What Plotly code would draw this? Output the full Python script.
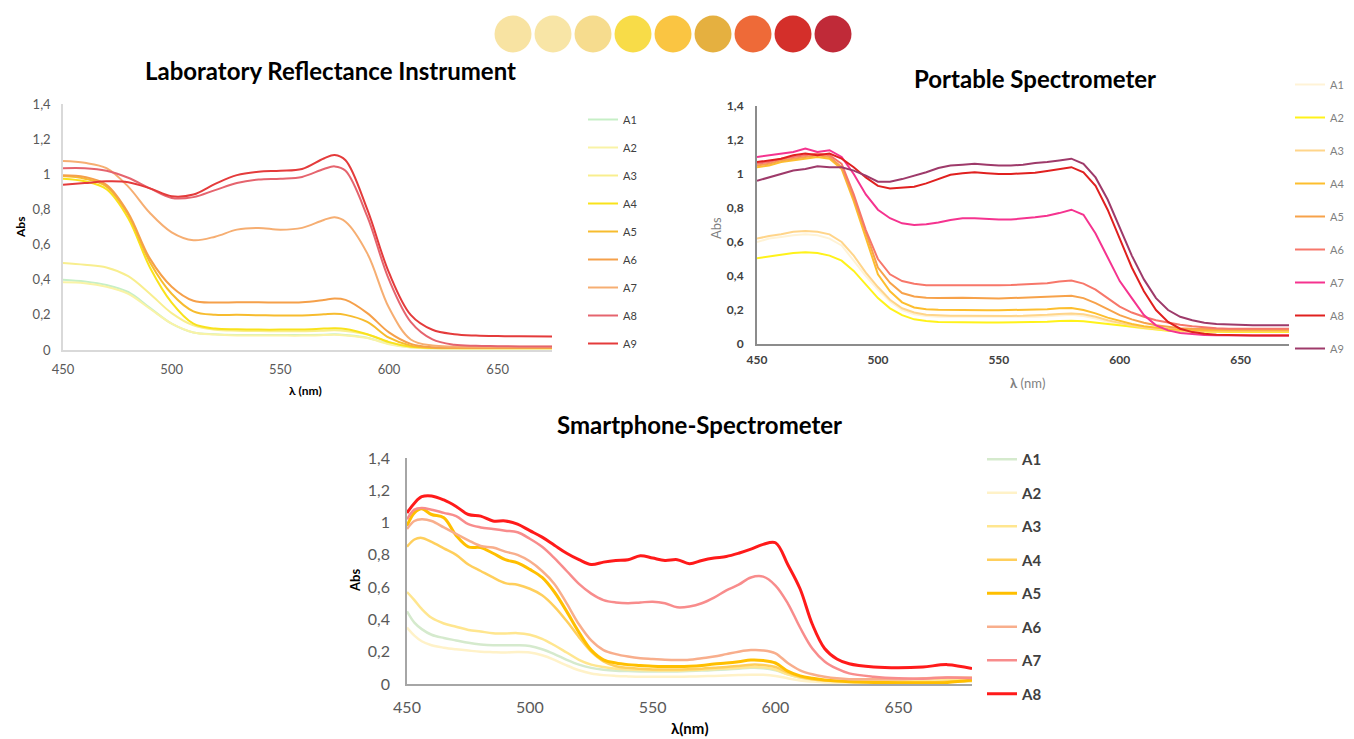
"""Absorbance spectra measured with three instruments (lab, portable, smartphone)."""

import plotly.graph_objects as go

# ---------------------------------------------------------------- data
# colour chips shown above the charts
swatch_pos = [1, 2, 3, 4, 5, 6, 7, 8, 9]
swatch_colors = ["#F8E3A2", "#F8E5A6", "#F6DC8E", "#F8DC48", "#FAC542",
                 "#E5B040", "#EE6A38", "#D42F2A", "#C02A38"]

# Laboratory Reflectance Instrument
wl_lab = [450, 460, 470, 480, 490, 500, 510, 520, 530, 540, 550, 560,
          570, 575, 580, 590, 600, 610, 620, 630, 640, 650, 660, 675]
lab_a1 = [0.40, 0.39, 0.37, 0.33, 0.24, 0.15, 0.10, 0.09, 0.086, 0.085, 0.085, 0.085,
          0.087, 0.089, 0.085, 0.07, 0.035, 0.015, 0.01, 0.01, 0.01, 0.01, 0.01, 0.01]
lab_a2 = [0.385, 0.38, 0.36, 0.32, 0.235, 0.15, 0.10, 0.088, 0.083, 0.082, 0.082, 0.082,
          0.085, 0.087, 0.083, 0.068, 0.033, 0.014, 0.01, 0.01, 0.01, 0.01, 0.01, 0.01]
lab_a3 = [0.495, 0.485, 0.47, 0.42, 0.32, 0.21, 0.14, 0.115, 0.11, 0.108, 0.107, 0.107,
          0.11, 0.112, 0.108, 0.088, 0.045, 0.02, 0.013, 0.011, 0.01, 0.01, 0.01, 0.01]
lab_a4 = [0.975, 0.96, 0.915, 0.75, 0.47, 0.27, 0.15, 0.122, 0.118, 0.116, 0.116, 0.117,
          0.122, 0.124, 0.12, 0.09, 0.045, 0.018, 0.012, 0.01, 0.01, 0.01, 0.01, 0.01]
lab_a5 = [0.99, 0.975, 0.93, 0.77, 0.50, 0.32, 0.22, 0.20, 0.20, 0.198, 0.196, 0.197,
          0.203, 0.206, 0.2, 0.16, 0.07, 0.025, 0.013, 0.012, 0.012, 0.012, 0.012, 0.012]
lab_a6 = [0.995, 0.985, 0.94, 0.78, 0.52, 0.36, 0.28, 0.27, 0.272, 0.272, 0.27, 0.272,
          0.285, 0.293, 0.285, 0.21, 0.10, 0.035, 0.016, 0.013, 0.012, 0.012, 0.012, 0.012]
lab_a7 = [1.075, 1.065, 1.035, 0.93, 0.78, 0.67, 0.625, 0.645, 0.685, 0.695, 0.685, 0.695,
          0.74, 0.755, 0.73, 0.55, 0.24, 0.06, 0.025, 0.02, 0.018, 0.018, 0.018, 0.018]
lab_a8 = [1.035, 1.035, 1.02, 0.98, 0.92, 0.865, 0.87, 0.91, 0.95, 0.97, 0.975, 0.985,
          1.03, 1.045, 1.02, 0.76, 0.40, 0.16, 0.06, 0.03, 0.024, 0.022, 0.02, 0.02]
lab_a9 = [0.94, 0.95, 0.96, 0.955, 0.92, 0.875, 0.885, 0.945, 0.995, 1.015, 1.02, 1.03,
          1.09, 1.11, 1.08, 0.80, 0.44, 0.20, 0.115, 0.09, 0.082, 0.079, 0.078, 0.077]

# Portable Spectrometer
wl_port = [450, 455, 460, 465, 470, 475, 480, 485, 490, 495, 500, 505, 510, 515, 520,
           525, 530, 535, 540, 545, 550, 555, 560, 565, 570, 575, 580, 585, 590, 595,
           600, 605, 610, 615, 620, 625, 630, 635, 640, 645, 650, 655, 660, 665, 670]
port_a1 = [0.60, 0.62, 0.63, 0.64, 0.645, 0.64, 0.62, 0.58, 0.49, 0.40, 0.32, 0.25, 0.20, 0.175, 0.165,
           0.16, 0.16, 0.16, 0.158, 0.157, 0.157, 0.157, 0.158, 0.16, 0.163, 0.168, 0.172, 0.165, 0.15, 0.13,
           0.115, 0.10, 0.09, 0.083, 0.078, 0.075, 0.073, 0.072, 0.072, 0.072, 0.072, 0.072, 0.072, 0.072, 0.072]
port_a2 = [0.505, 0.515, 0.525, 0.535, 0.54, 0.535, 0.52, 0.49, 0.43, 0.35, 0.27, 0.21, 0.17, 0.145, 0.135,
           0.13, 0.128, 0.127, 0.127, 0.126, 0.127, 0.127, 0.128, 0.129, 0.131, 0.135, 0.137, 0.134, 0.126, 0.117,
           0.108, 0.098, 0.09, 0.083, 0.078, 0.075, 0.073, 0.072, 0.071, 0.07, 0.07, 0.07, 0.07, 0.07, 0.07]
port_a3 = [0.62, 0.635, 0.645, 0.66, 0.665, 0.66, 0.645, 0.60, 0.52, 0.42, 0.335, 0.26, 0.21, 0.185, 0.172,
           0.168, 0.166, 0.166, 0.165, 0.165, 0.165, 0.165, 0.166, 0.168, 0.172, 0.177, 0.18, 0.175, 0.16, 0.14,
           0.122, 0.108, 0.097, 0.088, 0.082, 0.078, 0.076, 0.075, 0.075, 0.075, 0.075, 0.075, 0.075, 0.075, 0.075]
port_a4 = [1.04, 1.05, 1.07, 1.08, 1.09, 1.10, 1.09, 1.03, 0.84, 0.62, 0.41, 0.31, 0.245, 0.215, 0.205,
           0.202, 0.2, 0.2, 0.199, 0.198, 0.198, 0.199, 0.2, 0.202, 0.205, 0.21, 0.212, 0.2, 0.18, 0.155,
           0.135, 0.118, 0.105, 0.095, 0.088, 0.084, 0.081, 0.08, 0.08, 0.08, 0.08, 0.08, 0.08, 0.08, 0.08]
port_a5 = [1.05, 1.06, 1.08, 1.09, 1.10, 1.11, 1.10, 1.04, 0.86, 0.65, 0.45, 0.36, 0.30, 0.28, 0.272,
           0.27, 0.272, 0.272, 0.27, 0.268, 0.268, 0.27, 0.272, 0.274, 0.277, 0.282, 0.284, 0.27, 0.24, 0.205,
           0.17, 0.145, 0.125, 0.11, 0.1, 0.093, 0.089, 0.087, 0.086, 0.085, 0.085, 0.085, 0.085, 0.085, 0.085]
port_a6 = [1.06, 1.07, 1.09, 1.10, 1.11, 1.12, 1.11, 1.06, 0.88, 0.67, 0.50, 0.41, 0.37, 0.355, 0.345,
           0.343, 0.345, 0.346, 0.345, 0.344, 0.345, 0.347, 0.35, 0.353, 0.358, 0.368, 0.374, 0.355, 0.32, 0.27,
           0.22, 0.185, 0.16, 0.14, 0.125, 0.113, 0.104, 0.097, 0.093, 0.09, 0.09, 0.09, 0.09, 0.09, 0.09]
port_a7 = [1.10, 1.11, 1.12, 1.13, 1.15, 1.13, 1.14, 1.10, 1.00, 0.88, 0.79, 0.74, 0.71, 0.70, 0.705,
           0.715, 0.73, 0.74, 0.74, 0.735, 0.732, 0.732, 0.738, 0.745, 0.755, 0.77, 0.79, 0.76, 0.65, 0.51,
           0.37, 0.27, 0.17, 0.11, 0.08, 0.065, 0.057, 0.053, 0.051, 0.05, 0.05, 0.05, 0.05, 0.05, 0.05]
port_a8 = [1.07, 1.08, 1.09, 1.11, 1.12, 1.11, 1.12, 1.09, 1.04, 0.98, 0.93, 0.915, 0.92, 0.925, 0.945,
           0.97, 0.995, 1.005, 1.01, 1.005, 1.0, 1.0, 1.002, 1.008, 1.018, 1.03, 1.04, 1.01, 0.93, 0.79,
           0.62, 0.45, 0.31, 0.20, 0.13, 0.09, 0.07, 0.06, 0.055, 0.052, 0.05, 0.05, 0.05, 0.05, 0.05]
port_a9 = [0.96, 0.98, 1.00, 1.02, 1.03, 1.045, 1.04, 1.04, 1.02, 0.99, 0.955, 0.955, 0.97, 0.99, 1.01,
           1.035, 1.05, 1.055, 1.06, 1.055, 1.05, 1.05, 1.055, 1.065, 1.07, 1.08, 1.09, 1.06, 0.98, 0.85,
           0.68, 0.52, 0.38, 0.27, 0.20, 0.16, 0.14, 0.125, 0.118, 0.114, 0.112, 0.11, 0.11, 0.11, 0.11]

# Smartphone-Spectrometer
wl_phone = [450, 453, 456, 460, 465, 470, 475, 480, 485, 490, 495, 500, 505, 510, 515,
            520, 525, 530, 535, 540, 545, 550, 555, 560, 565, 570, 575, 580, 585, 590,
            595, 600, 605, 610, 615, 620, 625, 630, 640, 650, 660, 670, 680]
phone_a1 = [0.45, 0.38, 0.34, 0.305, 0.285, 0.27, 0.255, 0.245, 0.24, 0.24, 0.24, 0.235, 0.215, 0.185, 0.15,
            0.12, 0.10, 0.088, 0.082, 0.08, 0.078, 0.077, 0.077, 0.078, 0.08, 0.083, 0.086, 0.09, 0.095, 0.10,
            0.098, 0.085, 0.06, 0.04, 0.028, 0.02, 0.016, 0.014, 0.012, 0.012, 0.012, 0.014, 0.015]
phone_a2 = [0.35, 0.30, 0.265, 0.24, 0.225, 0.215, 0.207, 0.20, 0.197, 0.195, 0.198, 0.195, 0.178, 0.15, 0.115,
            0.085, 0.065, 0.055, 0.05, 0.047, 0.045, 0.045, 0.045, 0.045, 0.046, 0.048, 0.05, 0.053, 0.056, 0.058,
            0.057, 0.05, 0.035, 0.022, 0.015, 0.01, 0.008, 0.008, 0.008, 0.01, 0.012, 0.015, 0.015]
phone_a3 = [0.57, 0.52, 0.465, 0.41, 0.375, 0.355, 0.335, 0.325, 0.315, 0.313, 0.315, 0.305, 0.28, 0.24, 0.195,
            0.15, 0.12, 0.105, 0.095, 0.09, 0.087, 0.085, 0.084, 0.084, 0.086, 0.088, 0.092, 0.096, 0.10, 0.105,
            0.103, 0.09, 0.06, 0.04, 0.028, 0.022, 0.02, 0.02, 0.02, 0.02, 0.025, 0.03, 0.035]
phone_a4 = [0.85, 0.895, 0.905, 0.88, 0.84, 0.80, 0.74, 0.70, 0.66, 0.625, 0.615, 0.59, 0.55, 0.48, 0.39,
            0.29, 0.20, 0.14, 0.11, 0.10, 0.095, 0.09, 0.09, 0.09, 0.092, 0.095, 0.10, 0.105, 0.112, 0.12,
            0.118, 0.105, 0.07, 0.045, 0.03, 0.022, 0.018, 0.015, 0.012, 0.01, 0.01, 0.015, 0.02]
phone_a5 = [0.98, 1.06, 1.085, 1.05, 1.03, 0.92, 0.85, 0.845, 0.81, 0.77, 0.75, 0.71, 0.66, 0.57, 0.45,
            0.32, 0.21, 0.15, 0.13, 0.12, 0.115, 0.11, 0.108, 0.108, 0.11, 0.115, 0.124, 0.13, 0.138, 0.148,
            0.145, 0.13, 0.08, 0.05, 0.035, 0.025, 0.018, 0.014, 0.01, 0.008, 0.008, 0.01, 0.025]
phone_a6 = [0.96, 1.01, 1.02, 1.01, 0.97, 0.93, 0.89, 0.855, 0.845, 0.82, 0.80, 0.76, 0.70, 0.62, 0.50,
            0.37, 0.27, 0.21, 0.185, 0.17, 0.16, 0.155, 0.15, 0.148, 0.15, 0.16, 0.17, 0.185, 0.20, 0.21,
            0.208, 0.19, 0.13, 0.085, 0.06, 0.045, 0.035, 0.03, 0.03, 0.03, 0.035, 0.04, 0.04]
phone_a7 = [1.02, 1.08, 1.09, 1.08, 1.06, 1.04, 0.99, 0.97, 0.96, 0.95, 0.94, 0.90, 0.85, 0.78, 0.70,
            0.62, 0.56, 0.52, 0.505, 0.50, 0.505, 0.51, 0.50, 0.475, 0.48, 0.50, 0.535, 0.58, 0.615, 0.66,
            0.665, 0.61, 0.50, 0.35, 0.22, 0.14, 0.095, 0.066, 0.045, 0.035, 0.033, 0.04, 0.035]
phone_a8 = [1.06, 1.12, 1.16, 1.165, 1.14, 1.10, 1.05, 1.04, 1.01, 1.01, 0.99, 0.95, 0.91, 0.86, 0.81,
            0.77, 0.74, 0.755, 0.765, 0.77, 0.795, 0.78, 0.765, 0.77, 0.745, 0.765, 0.78, 0.79, 0.81, 0.835,
            0.865, 0.875, 0.74, 0.59, 0.37, 0.22, 0.155, 0.125, 0.105, 0.10, 0.105, 0.12, 0.095]

names = ["A1", "A2", "A3", "A4", "A5", "A6", "A7", "A8", "A9"]

lab_series = [lab_a1, lab_a2, lab_a3, lab_a4, lab_a5, lab_a6, lab_a7, lab_a8, lab_a9]
lab_colors = ["#C6EFC6", "#F9F3A6", "#F8EE8E", "#F9E21B", "#F7BC2E",
              "#F5A04A", "#F6AE72", "#E5646E", "#E43B3B"]

port_series = [port_a1, port_a2, port_a3, port_a4, port_a5, port_a6, port_a7, port_a8, port_a9]
port_colors = ["#FFF3D6", "#FFF21A", "#FFD58A", "#FDBE2E", "#F7A24A",
               "#F7776A", "#F5338F", "#E0201F", "#9E3A6A"]

phone_series = [phone_a1, phone_a2, phone_a3, phone_a4, phone_a5, phone_a6, phone_a7, phone_a8]
phone_colors = ["#D5EACD", "#FFF2C8", "#FFE68F", "#FFCF5C", "#FFBF00",
                "#F8AE8C", "#F88C8C", "#FF1A1A"]

# ---------------------------------------------------------------- figure
# the page body keeps its default 8px margin, so the figure starts 8px in;
# layout positions below are given in window pixels
PAGE_W, PAGE_H, BODY = 1354, 739, 8
W, H = PAGE_W - BODY, PAGE_H - BODY
FONT = "Lato, 'Open Sans', sans-serif"


def px(x):
    return (x - BODY) / W


def py(y):
    return 1 - (y - BODY) / H


fig = go.Figure()

for name, ys, col in zip(names, lab_series, lab_colors):
    fig.add_trace(go.Scatter(
        x=wl_lab, y=ys, name=name, mode="lines", line=dict(color=col, width=2, shape="spline"),
        xaxis="x", yaxis="y", legend="legend", legendgroup="lab" + name,
    ))

for name, ys, col in zip(names, port_series, port_colors):
    fig.add_trace(go.Scatter(
        x=wl_port, y=ys, name=name, mode="lines", line=dict(color=col, width=2),
        xaxis="x2", yaxis="y2", legend="legend2", legendgroup="port" + name,
    ))

for name, ys, col in zip(names, phone_series, phone_colors):
    w = 3 if name in ("A5", "A8") else 2.5
    fig.add_trace(go.Scatter(
        x=wl_phone, y=ys, name=name, mode="lines", line=dict(color=col, width=w, shape="spline"),
        xaxis="x3", yaxis="y3", legend="legend3", legendgroup="phone" + name,
    ))

fig.add_trace(go.Scatter(
    x=swatch_pos, y=[1] * len(swatch_pos), mode="markers", showlegend=False, hoverinfo="skip",
    marker=dict(size=37, color=swatch_colors, line=dict(width=0)),
    xaxis="x4", yaxis="y4",
))


def xax(x0, x1, y_axis, rng, tick_font, line_col, line_w, standoff):
    return dict(domain=[px(x0), px(x1)], range=rng, anchor=y_axis, showgrid=False,
                zeroline=False, showline=True, linecolor=line_col, linewidth=line_w,
                tickvals=[450, 500, 550, 600, 650], ticks="", tickfont=tick_font,
                ticklabelstandoff=standoff, automargin=False, fixedrange=True)


def yax(y0, y1, x_axis, tick_font, line_col, line_w, standoff):
    return dict(domain=[py(y0), py(y1)], range=[0, 1.4], anchor=x_axis, showgrid=False,
                zeroline=False, showline=True, linecolor=line_col, linewidth=line_w,
                dtick=0.2, tick0=0, ticks="", tickfont=tick_font,
                ticklabelstandoff=standoff, automargin=False, fixedrange=True)


tf1 = dict(family=FONT, size=13, color="#595959")
tf2 = dict(family=FONT, size=12, color="#404040", weight="bold")
tf3 = dict(family=FONT, size=16, color="#595959")

legend_common = dict(bgcolor="rgba(0,0,0,0)", borderwidth=0, traceorder="grouped",
                     xanchor="left", yanchor="top", itemclick=False, itemdoubleclick=False)

fig.update_layout(
    width=W, height=H, margin=dict(l=0, r=0, t=0, b=0, autoexpand=False),
    paper_bgcolor="white", plot_bgcolor="white", separators=", ",
    font=dict(family=FONT, color="#404040"),
    xaxis=xax(63, 552, "y", [450, 675], tf1, "#D9D9D9", 1.5, 7),
    yaxis=yax(350, 104, "x", tf1, "#D9D9D9", 1.5, 8),
    xaxis2=xax(757, 1289, "y2", [450, 670], tf2, "#8C8C8C", 2, 4),
    yaxis2=yax(344, 106, "x2", tf2, "#8C8C8C", 2, 9),
    xaxis3=xax(407, 972, "y3", [450, 680], tf3, "#A6A6A6", 1.5, 8),
    yaxis3=yax(684, 458, "x3", tf3, "#A6A6A6", 1.5, 12),
    xaxis4=dict(domain=[px(493), px(853)], range=[0.5, 9.5], anchor="y4", visible=False),
    yaxis4=dict(domain=[py(60), py(8)], range=[0, 2], anchor="x4", visible=False),
    legend=dict(x=px(583), y=py(105), font=dict(family=FONT, size=11, color="#404040"),
                tracegroupgap=9, **legend_common),
    legend2=dict(x=px(1290), y=py(70), font=dict(family=FONT, size=11, color="#7F7F7F"),
                 tracegroupgap=14, **legend_common),
    legend3=dict(x=px(982), y=py(443), font=dict(family=FONT, size=15, color="#404040", weight="bold"),
                 tracegroupgap=11, **legend_common),
)

annotations = [
    dict(text="<b>Laboratory Reflectance Instrument</b>", x=px(330), y=py(71), size=24),
    dict(text="<b>Portable Spectrometer</b>", x=px(1035), y=py(79), size=24),
    dict(text="<b>Smartphone-Spectrometer</b>", x=px(700), y=py(424), size=24),
    dict(text="<b>λ (nm)</b>", x=px(305), y=py(391), size=12),
    dict(text="<b>λ</b> (nm)", x=px(1027), y=py(383), size=13, color="#7F7F7F"),
    dict(text="<b>λ(nm)</b>", x=px(690), y=py(728), size=15),
    dict(text="<b>Abs</b>", x=px(20), y=py(228), size=12, angle=-90),
    dict(text="Abs", x=px(716), y=py(228), size=13, angle=-90, color="#7F7F7F"),
    dict(text="<b>Abs</b>", x=px(355), y=py(580), size=13, angle=-90),
]
for a in annotations:
    fig.add_annotation(
        text=a["text"], x=a["x"], y=a["y"], xref="paper", yref="paper",
        xanchor="center", yanchor="middle", showarrow=False, textangle=a.get("angle", 0),
        font=dict(family=FONT, size=a["size"], color=a.get("color", "#000000")),
    )

fig.write_html("out.html")
